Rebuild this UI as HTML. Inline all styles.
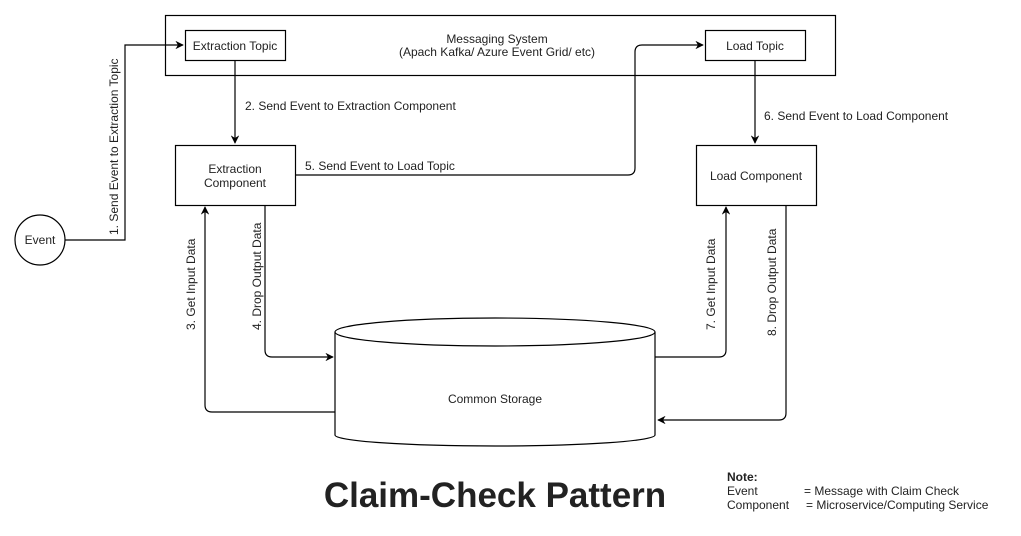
<!DOCTYPE html>
<html><head><meta charset="utf-8"><style>
body{margin:0;background:#fff;width:1021px;height:531px;overflow:hidden}
svg{font-family:"Liberation Sans",Arial,sans-serif}
</style></head><body>
<svg width="1021" height="531" viewBox="0 0 1021 531" xmlns="http://www.w3.org/2000/svg">
<defs><marker id="a" viewBox="0 0 10 10" refX="9" refY="5" markerWidth="7" markerHeight="7" orient="auto"><path d="M0,0 L10,5 L0,10 L3,5 z" fill="#000"/></marker></defs>
<g fill="none" stroke="#000" stroke-width="1.2">
<rect x="165.5" y="15.5" width="670" height="60"/>
<rect x="185.5" y="30.5" width="100" height="30"/>
<rect x="705.5" y="30.5" width="100" height="30"/>
<rect x="175.5" y="145.5" width="120" height="60"/>
<rect x="696.5" y="145.5" width="120" height="60"/>
<circle cx="40" cy="240" r="25"/>
<path d="M335,332 L335,435 A160,11 0 0 0 655,435 L655,332" fill="#fff"/>
<ellipse cx="495" cy="332" rx="160" ry="14" fill="#fff"/>
<path d="M65,240 H125 V45 H183" marker-end="url(#a)"/>
<path d="M235,61 V143" marker-end="url(#a)"/>
<path d="M296,175 H628 Q635,175 635,168 V52 Q635,45 642,45 H703" marker-end="url(#a)"/>
<path d="M755,61 V143" marker-end="url(#a)"/>
<path d="M265,206 V350 Q265,357 272,357 H333" marker-end="url(#a)"/>
<path d="M335,412 H212 Q205,412 205,405 V207" marker-end="url(#a)"/>
<path d="M655,357 H719 Q726,357 726,350 V207" marker-end="url(#a)"/>
<path d="M786,206 V413 Q786,420 779,420 H658" marker-end="url(#a)"/>
</g>
<g font-size="12" fill="#222">
<text x="497" y="43" text-anchor="middle">Messaging System</text>
<text x="497" y="56" text-anchor="middle">(Apach Kafka/ Azure Event Grid/ etc)</text>
<text x="235" y="50" text-anchor="middle">Extraction Topic</text>
<text x="755" y="50" text-anchor="middle">Load Topic</text>
<text x="235" y="173" text-anchor="middle">Extraction</text>
<text x="235" y="187" text-anchor="middle">Component</text>
<text x="756" y="180" text-anchor="middle">Load Component</text>
<text x="40" y="244" text-anchor="middle">Event</text>
<text x="495" y="403" text-anchor="middle">Common Storage</text>
<text x="245" y="110">2. Send Event to Extraction Component</text>
<text x="305" y="170">5. Send Event to Load Topic</text>
<text x="764" y="120">6. Send Event to Load Component</text>
<text transform="translate(118,235) rotate(-90)">1. Send Event to Extraction Topic</text>
<text transform="translate(195,330) rotate(-90)">3. Get Input Data</text>
<text transform="translate(261,330) rotate(-90)">4. Drop Output Data</text>
<text transform="translate(715,330) rotate(-90)">7. Get Input Data</text>
<text transform="translate(776,336) rotate(-90)">8. Drop Output Data</text>
<text x="727" y="481" font-weight="bold">Note:</text>
<text x="727" y="495">Event</text><text x="804" y="495">= Message with Claim Check</text>
<text x="727" y="509">Component</text><text x="806" y="509">= Microservice/Computing Service</text>
</g>
<text x="495" y="507" text-anchor="middle" font-size="35" font-weight="bold" fill="#222">Claim-Check Pattern</text>
</svg>
</body></html>
